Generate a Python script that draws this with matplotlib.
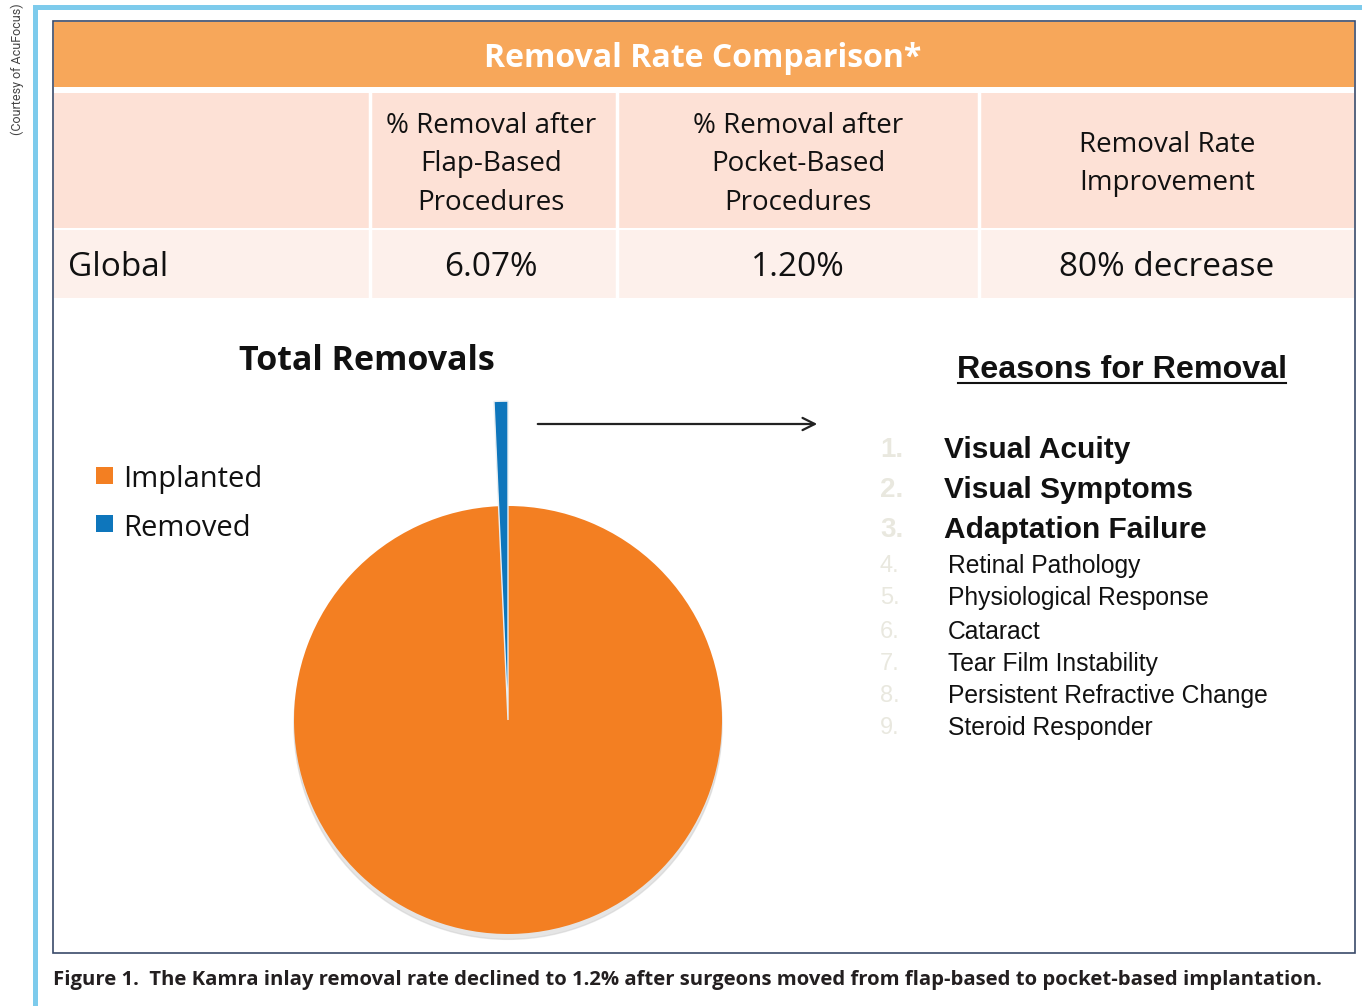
import matplotlib
matplotlib.use('Agg')
import matplotlib.pyplot as plt
from matplotlib.patches import Rectangle

# data
title = 'Removal Rate Comparison*'
col_heads = ['% Removal after\nFlap-Based\nProcedures', '% Removal after\nPocket-Based\nProcedures', 'Removal Rate\nImprovement']
row_label = 'Global'
row_vals = ['6.07%', '1.20%', '80% decrease']
pie_labels = ['Removed', 'Implanted']
pie_vals = [0.7, 99.3]
pie_colors = ['#0e76bc', '#f37f22']
reasons = ['Visual Acuity', 'Visual Symptoms', 'Adaptation Failure', 'Retinal Pathology',
           'Physiological Response', 'Cataract', 'Tear Film Instability',
           'Persistent Refractive Change', 'Steroid Responder']
caption = 'Figure 1.  The Kamra inlay removal rate declined to 1.2% after surgeons moved from flap-based to pocket-based implantation.'

W, H = 1362, 1006
fig = plt.figure(figsize=(W/100, H/100), dpi=100)
ax = fig.add_axes([0, 0, 1, 1])
ax.set_xlim(0, W)
ax.set_ylim(H, 0)
ax.axis('off')

dy = 3  # text baseline nudge

# blue frame (top + left)
ax.add_patch(Rectangle((33, 5), W-33, 5, color='#7dcbec', lw=0))
ax.add_patch(Rectangle((33, 5), 5, H-5, color='#7dcbec', lw=0))
ax.text(17, 69, '(Courtesy of AcuFocus)', rotation=90, ha='center', va='center',
        fontsize=9, color='#444444', family='Roboto')

# inner box
ax.add_patch(Rectangle((53, 21), 1302, 932, fill=False, ec='#3a4a6a', lw=1.2))

sans = 'Open Sans'
# header
ax.add_patch(Rectangle((54, 22), 1300, 65, color='#f7a75a', lw=0))
ax.text(703, 55 + dy, title, ha='center', va='center', color='white', fontsize=23,
        fontweight='bold', family=sans)
ax.add_patch(Rectangle((54, 93), 1300, 135, color='#fde1d6', lw=0))
ax.add_patch(Rectangle((54, 230), 1300, 68, color='#fdf0eb', lw=0))
for x in [370, 617, 979]:
    ax.plot([x, x], [93, 298], color='white', lw=2.5)

col_x = [491, 798, 1167]
for cx, head, val in zip(col_x, col_heads, row_vals):
    ax.text(cx, 161 + dy, head, ha='center', va='center', fontsize=20, family=sans,
            color='#111111', linespacing=1.5)
    ax.text(cx, 265 + dy, val, ha='center', va='center', fontsize=24, family=sans, color='#111111')
ax.text(68, 265 + dy, row_label, ha='left', va='center', fontsize=24, family=sans, color='#111111')

# pie title and legend
ax.text(367, 358 + dy, 'Total Removals', ha='center', va='center', fontsize=24.5,
        fontweight='bold', family=sans, color='#111111')
leg_y = [477, 525]
for lab, col, y in zip(['Implanted', 'Removed'], [pie_colors[1], pie_colors[0]], leg_y):
    ax.add_patch(Rectangle((96, y-10), 17, 17, color=col, lw=0))
    ax.text(123, y + dy, lab, ha='left', va='center', fontsize=21, family=sans, color='#111111')

# arrow
ax.annotate('', xy=(820, 424), xytext=(535, 424),
            arrowprops=dict(arrowstyle='->', color='#222222', lw=1.6, mutation_scale=22))

# reasons list
arial = 'Liberation Sans'
ax.text(1122, 367 + dy, 'Reasons for Removal', ha='center', va='center', fontsize=23.2,
        fontweight='bold', family=arial, color='#111111')
ax.plot([958, 1286], [383, 383], color='#111111', lw=1.5)
ys = [447, 487, 527, 563, 595, 629, 661, 693, 725]
for i, (r, y) in enumerate(zip(reasons, ys)):
    big = i < 3
    ax.text(880, y + dy, f'{i+1}.', ha='left', va='center', fontsize=20 if big else 17,
            fontweight='bold' if big else 'normal', family=arial, color='#e9e8df')
    ax.text(944 if big else 948, y + dy, r, ha='left', va='center', fontsize=21.5 if big else 17.7,
            fontweight='bold' if big else 'normal', family=arial, color='#111111')

# caption
ax.text(53, 977 + dy, caption, ha='left', va='center', fontsize=14.6, fontweight='bold',
        family=sans, color='#231f20')

# pie
cx, cy, r = 508, 720, 214
s = r * 1.6
pax = fig.add_axes([(cx - s)/W, 1 - (cy + s)/H, 2*s/W, 2*s/H])
wedges, _ = pax.pie(pie_vals, colors=pie_colors, startangle=90, counterclock=True,
                    radius=1, wedgeprops=dict(lw=0))
pax.set_xlim(-1.6, 1.6)
pax.set_ylim(-1.6, 1.6)
pax.set_aspect('equal')
pax.axis('off')
shadow = plt.Circle((0.0, -0.025), 1.0, color='#cccccc', alpha=0.5, zorder=0)
pax.add_patch(shadow)
wedges[0].set_radius(1.49)
wedges[0].set_edgecolor('#e8eef2')
wedges[0].set_linewidth(1.0)
wedges[0].set_zorder(3)

fig.savefig('out.png', dpi=100)
